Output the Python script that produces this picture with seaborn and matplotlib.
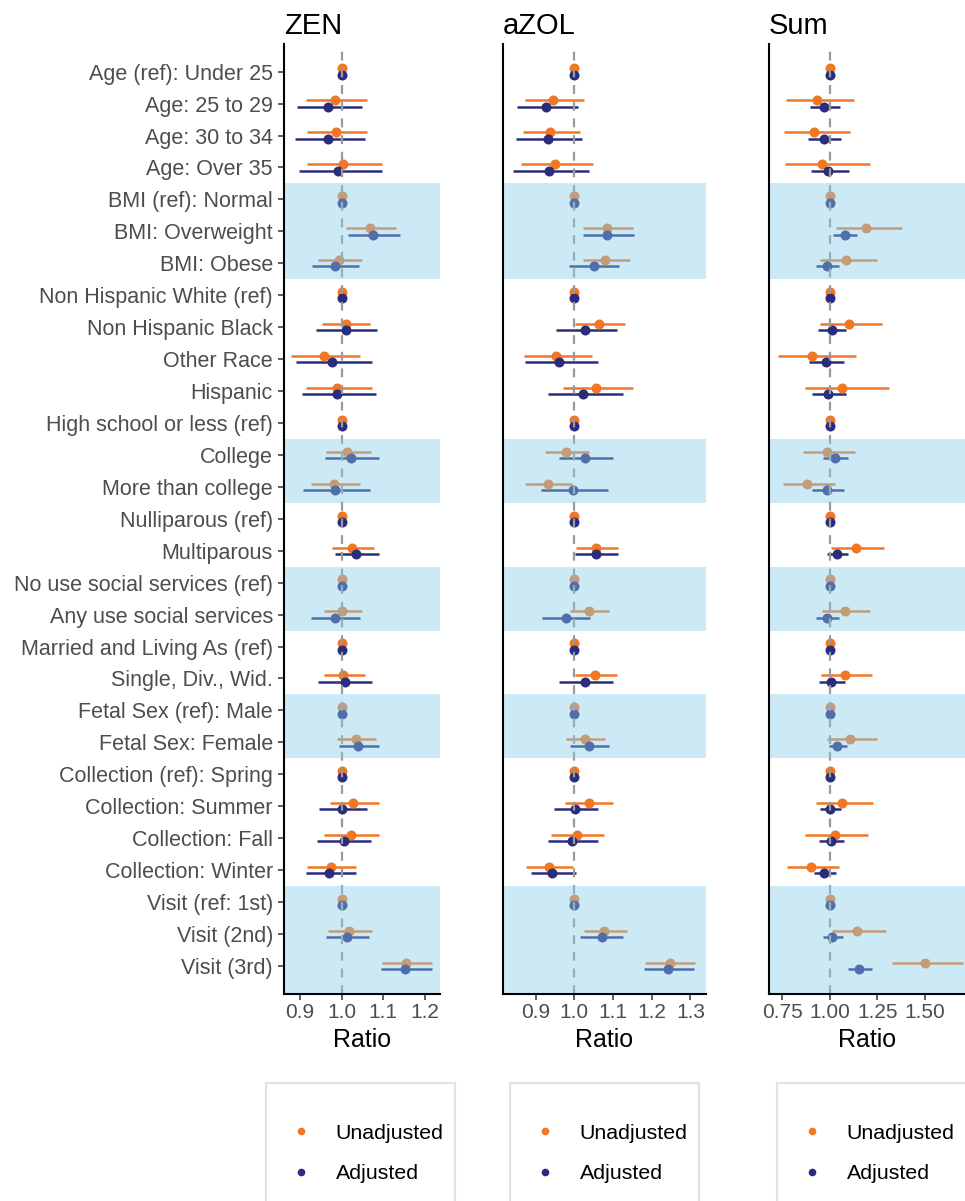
import matplotlib
matplotlib.use("Agg")
import matplotlib.pyplot as plt
from matplotlib.lines import Line2D
from matplotlib.patches import Rectangle
import pandas as pd
import seaborn as sns

sns.set_theme(style="ticks")
plt.rcParams["font.family"] = ["Liberation Sans", "DejaVu Sans"]

# Covariate rows, top to bottom
labels = [
    "Age (ref): Under 25", "Age: 25 to 29", "Age: 30 to 34", "Age: Over 35",
    "BMI (ref): Normal", "BMI: Overweight", "BMI: Obese",
    "Non Hispanic White (ref)", "Non Hispanic Black", "Other Race", "Hispanic",
    "High school or less (ref)", "College", "More than college",
    "Nulliparous (ref)", "Multiparous",
    "No use social services (ref)", "Any use social services",
    "Married and Living As (ref)", "Single, Div., Wid.",
    "Fetal Sex (ref): Male", "Fetal Sex: Female",
    "Collection (ref): Spring", "Collection: Summer", "Collection: Fall",
    "Collection: Winter",
    "Visit (ref: 1st)", "Visit (2nd)", "Visit (3rd)",
]

# ZEN ratios with 95% CI
zen_unadj = [1, 0.984, 0.986, 1.004, 1, 1.068, 0.994, 1, 1.010, 0.958, 0.989, 1, 1.014, 0.982,
             1, 1.026, 1, 1.000, 1, 1.004, 1, 1.034, 1, 1.028, 1.022, 0.974, 1, 1.018, 1.154]
zen_unadj_lo = [1, 0.914, 0.917, 0.917, 1, 1.010, 0.943, 1, 0.953, 0.878, 0.914, 1, 0.962, 0.926,
                1, 0.978, 1, 0.957, 1, 0.958, 1, 0.989, 1, 0.972, 0.958, 0.916, 1, 0.968, 1.098]
zen_unadj_hi = [1, 1.060, 1.061, 1.098, 1, 1.130, 1.048, 1, 1.068, 1.044, 1.072, 1, 1.071, 1.044,
                1, 1.078, 1, 1.048, 1, 1.055, 1, 1.082, 1, 1.089, 1.090, 1.034, 1, 1.072, 1.216]
zen_adj = [1, 0.968, 0.968, 0.992, 1, 1.076, 0.984, 1, 1.010, 0.978, 0.988, 1, 1.022, 0.984,
           1, 1.034, 1, 0.984, 1, 1.008, 1, 1.040, 1, 1.002, 1.006, 0.970, 1, 1.014, 1.153]
zen_adj_lo = [1, 0.893, 0.889, 0.898, 1, 1.016, 0.929, 1, 0.938, 0.890, 0.904, 1, 0.960, 0.908,
              1, 0.984, 1, 0.926, 1, 0.944, 1, 0.994, 1, 0.946, 0.940, 0.914, 1, 0.962, 1.094]
zen_adj_hi = [1, 1.049, 1.056, 1.097, 1, 1.140, 1.041, 1, 1.085, 1.072, 1.082, 1, 1.090, 1.069,
              1, 1.089, 1, 1.044, 1, 1.074, 1, 1.089, 1, 1.060, 1.070, 1.034, 1, 1.066, 1.216]

# aZOL ratios with 95% CI
azol_unadj = [1, 0.945, 0.938, 0.951, 1, 1.084, 1.080, 1, 1.063, 0.954, 1.057, 1, 0.979, 0.931,
              1, 1.057, 1, 1.039, 1, 1.054, 1, 1.028, 1, 1.037, 1.007, 0.935, 1, 1.078, 1.248]
azol_unadj_lo = [1, 0.874, 0.868, 0.863, 1, 1.022, 1.022, 1, 1.001, 0.869, 0.971, 1, 0.925, 0.874,
                 1, 1.004, 1, 0.990, 1, 1.003, 1, 0.979, 1, 0.977, 0.940, 0.876, 1, 1.024, 1.184]
azol_unadj_hi = [1, 1.026, 1.015, 1.048, 1, 1.151, 1.145, 1, 1.130, 1.046, 1.153, 1, 1.038, 0.994,
                 1, 1.113, 1, 1.091, 1, 1.110, 1, 1.080, 1, 1.100, 1.078, 0.997, 1, 1.136, 1.312]
azol_adj = [1, 0.927, 0.931, 0.934, 1, 1.084, 1.050, 1, 1.028, 0.961, 1.022, 1, 1.028, 0.997,
            1, 1.057, 1, 0.978, 1, 1.027, 1, 1.038, 1, 1.003, 0.994, 0.943, 1, 1.071, 1.243]
azol_adj_lo = [1, 0.852, 0.850, 0.841, 1, 1.022, 0.987, 1, 0.953, 0.872, 0.931, 1, 0.961, 0.914,
               1, 1.003, 1, 0.918, 1, 0.960, 1, 0.990, 1, 0.947, 0.931, 0.888, 1, 1.015, 1.179]
azol_adj_hi = [1, 1.009, 1.020, 1.039, 1, 1.155, 1.115, 1, 1.110, 1.061, 1.125, 1, 1.099, 1.087,
               1, 1.114, 1, 1.041, 1, 1.099, 1, 1.090, 1, 1.061, 1.061, 1.004, 1, 1.127, 1.310]

# Sum ratios with 95% CI
sum_unadj = [1, 0.933, 0.918, 0.960, 1, 1.189, 1.087, 1, 1.100, 0.907, 1.066, 1, 0.986, 0.881,
             1, 1.136, 1, 1.079, 1, 1.079, 1, 1.105, 1, 1.066, 1.026, 0.899, 1, 1.145, 1.499]
sum_unadj_lo = [1, 0.769, 0.760, 0.764, 1, 1.031, 0.948, 1, 0.951, 0.729, 0.869, 1, 0.857, 0.755,
                1, 1.005, 1, 0.958, 1, 0.953, 1, 0.986, 1, 0.930, 0.872, 0.776, 1, 1.014, 1.327]
sum_unadj_hi = [1, 1.128, 1.108, 1.210, 1, 1.376, 1.248, 1, 1.273, 1.136, 1.310, 1, 1.131, 1.026,
                1, 1.285, 1, 1.213, 1, 1.219, 1, 1.245, 1, 1.224, 1.201, 1.047, 1, 1.297, 1.697]
sum_adj = [1, 0.970, 0.970, 0.991, 1, 1.079, 0.986, 1, 1.009, 0.979, 0.988, 1, 1.028, 0.986,
           1, 1.037, 1, 0.986, 1, 1.005, 1, 1.040, 1, 1.000, 1.004, 0.970, 1, 1.014, 1.154]
sum_adj_lo = [1, 0.895, 0.888, 0.899, 1, 1.018, 0.930, 1, 0.939, 0.890, 0.904, 1, 0.962, 0.907,
              1, 0.986, 1, 0.927, 1, 0.944, 1, 0.998, 1, 0.948, 0.942, 0.916, 1, 0.965, 1.096]
sum_adj_hi = [1, 1.052, 1.058, 1.100, 1, 1.143, 1.047, 1, 1.087, 1.075, 1.084, 1, 1.093, 1.073,
              1, 1.093, 1, 1.047, 1, 1.079, 1, 1.090, 1, 1.061, 1.073, 1.035, 1, 1.070, 1.219]

models = ["Unadjusted", "Adjusted"]
palette = {"Unadjusted": "#F07824", "Adjusted": "#2A2C7C"}
dodge = {"Unadjusted": -0.1, "Adjusted": 0.1}

# Row groups highlighted with a translucent band (first row, last row)
bands = [(4, 6), (12, 13), (16, 17), (20, 21), (26, 28)]

W, H = 965, 1201
fig = plt.figure(figsize=(W / 100, H / 100), dpi=100)

n = len(labels)
ylim = (n - 1 + 0.87, -0.87)
ax_bottom = 1 - 993.7 / H
ax_height = (993.7 - 43.9) / H

panels = [
    dict(title="ZEN", series=(zen_unadj, zen_unadj_lo, zen_unadj_hi, zen_adj, zen_adj_lo, zen_adj_hi),
         xlim=(0.862, 1.236), ticks=[0.9, 1.0, 1.1, 1.2], ticklabels=["0.9", "1.0", "1.1", "1.2"],
         px=(284, 440), box=(266, 455)),
    dict(title="aZOL", series=(azol_unadj, azol_unadj_lo, azol_unadj_hi, azol_adj, azol_adj_lo, azol_adj_hi),
         xlim=(0.816, 1.339), ticks=[0.9, 1.0, 1.1, 1.2, 1.3],
         ticklabels=["0.9", "1.0", "1.1", "1.2", "1.3"],
         px=(503, 705.5), box=(510, 699)),
    dict(title="Sum", series=(sum_unadj, sum_unadj_lo, sum_unadj_hi, sum_adj, sum_adj_lo, sum_adj_hi),
         xlim=(0.681, 1.709), ticks=[0.75, 1.0, 1.25, 1.5],
         ticklabels=["0.75", "1.00", "1.25", "1.50"],
         px=(769, 965), box=(777, 990)),
]

for k, p in enumerate(panels):
    u, ulo, uhi, a, alo, ahi = p["series"]
    frames = []
    for m, est, lo, hi in [("Unadjusted", u, ulo, uhi), ("Adjusted", a, alo, ahi)]:
        frames.append(pd.DataFrame({"row": range(n), "label": labels, "model": m,
                                    "est": est, "lo": lo, "hi": hi}))
    df = pd.concat(frames, ignore_index=True)
    df["ypos"] = df["row"] + df["model"].map(dodge)

    left = p["px"][0] / W
    width = (p["px"][1] - p["px"][0]) / W
    ax = fig.add_axes([left, ax_bottom, width, ax_height])

    # Confidence intervals, then the point estimates
    for m in models:
        sub = df[df["model"] == m]
        ax.hlines(sub["ypos"], sub["lo"], sub["hi"], colors=palette[m], lw=1.8, zorder=2)
    for m in models:
        sns.scatterplot(data=df[df["model"] == m], x="est", y="ypos", color=palette[m],
                        s=52, linewidth=0, zorder=3, legend=False, ax=ax)

    ax.axvline(1.0, color="#9A9A9A", lw=1.6, dashes=(4, 3.5), zorder=4)

    for b0, b1 in bands:
        top = b1 + 0.5 if b1 < n - 1 else ylim[0]
        ax.axhspan(b0 - 0.5, top, color="#87CEEB", alpha=0.42, lw=0, zorder=5)

    ax.set_xlim(*p["xlim"])
    ax.set_ylim(*ylim)
    ax.set_xticks(p["ticks"])
    ax.set_xticklabels(p["ticklabels"])
    ax.set_xlabel("Ratio", fontsize=18, color="black", labelpad=4)
    ax.set_ylabel("")
    ax.tick_params(axis="x", length=4, width=1.1, color="#333333", labelcolor="#4D4D4D",
                   labelsize=15, pad=3)
    if k == 0:
        ax.set_yticks(range(n))
        ax.set_yticklabels(labels)
        ax.tick_params(axis="y", length=4, width=1.1, color="#333333", labelcolor="#4D4D4D",
                       labelsize=15.5, pad=4)
    else:
        ax.set_yticks([])

    for side in ["top", "right"]:
        ax.spines[side].set_visible(False)
    for side in ["left", "bottom"]:
        ax.spines[side].set_color("black")
        ax.spines[side].set_linewidth(1.5)
        ax.spines[side].set_zorder(6)

    ax.set_title(p["title"], loc="left", fontsize=21, pad=7, color="black")

    # Legend below each panel
    bx0, bx1 = p["box"]
    fig.patches.append(Rectangle((bx0 / W, -0.05), (bx1 - bx0) / W, 0.05 + 1 - 1083 / H,
                                 transform=fig.transFigure, facecolor="white",
                                 edgecolor="#E2E2E2", lw=1.6, zorder=0))
    handles = [Line2D([], [], marker="o", ls="", ms=5.5, color=palette[m], markeredgewidth=0)
               for m in models]
    fs = 15.4
    dot_x = bx0 + 34.6
    half_handle = 0.5 * fs * 100 / 72
    fig.legend(handles, models, loc="center left",
               bbox_to_anchor=((dot_x - half_handle) / W, 1 - 1153.5 / H),
               frameon=False, fontsize=fs, borderpad=0, borderaxespad=0,
               handlelength=1.0, handletextpad=(35 - half_handle) / (fs * 100 / 72),
               labelspacing=1.0, labelcolor="black")

fig.savefig("out.png", dpi=100)
